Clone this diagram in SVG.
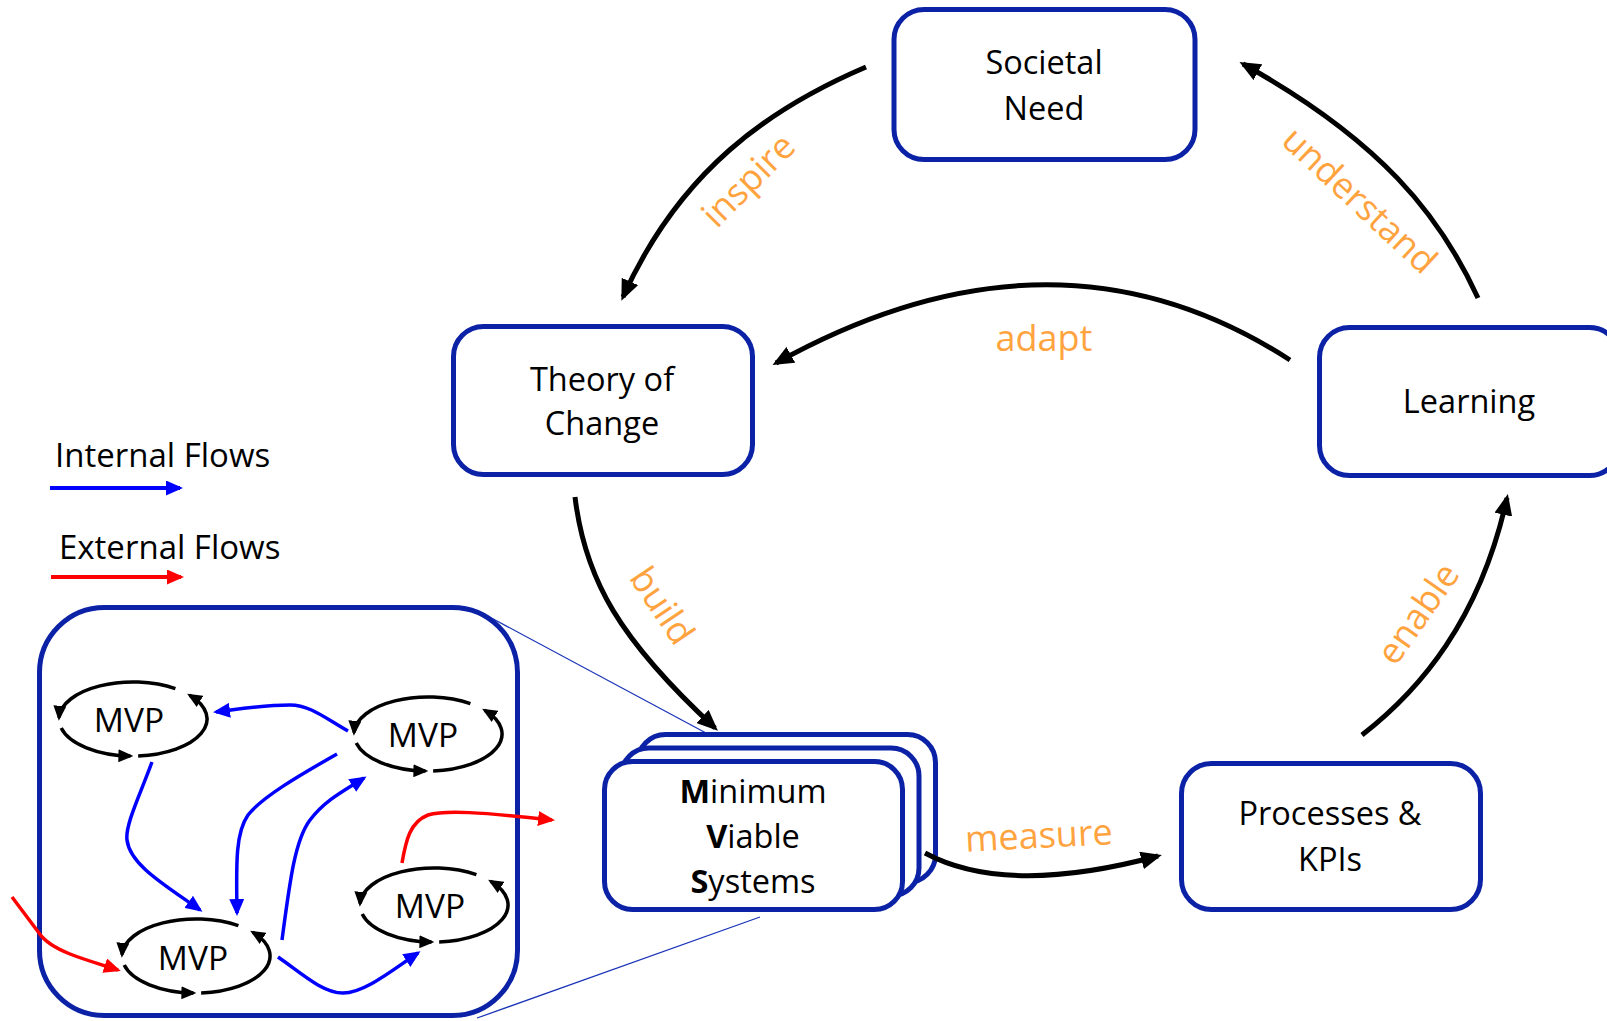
<svg xmlns="http://www.w3.org/2000/svg" xmlns:xlink="http://www.w3.org/1999/xlink" width="1607" height="1021" viewBox="0 0 1607 1021">
  <style>
    .box { fill: #ffffff; stroke: #0b22a6; stroke-width: 5; }
    .frame { fill: none; stroke: #0b22a6; stroke-width: 5; }
    .node-text { font-family: "Open Sans", "Noto Sans", sans-serif; font-size: 32.5px; fill: #000000; text-anchor: middle; }
    .mvp-text { font-family: "Open Sans", "Noto Sans", sans-serif; font-size: 33.5px; fill: #000000; text-anchor: middle; }
    .legend-text { font-family: "Open Sans", "Noto Sans", sans-serif; font-size: 33px; fill: #000000; }
    .label { font-family: "Open Sans", "Noto Sans", sans-serif; font-size: 36px; fill: #ffa33f; text-anchor: middle; }
    .flow-main { fill: none; stroke: #000000; stroke-width: 5; marker-end: url(#ah-black); }
    .ring { fill: none; stroke: #000000; stroke-width: 3.5; marker-end: url(#ah-small); }
    .flow-int { fill: none; stroke: #0000ff; stroke-width: 3.5; marker-end: url(#ah-blue); }
    .flow-ext { fill: none; stroke: #ff0000; stroke-width: 3.5; marker-end: url(#ah-red); }
    .callout { fill: none; stroke: #1a34b8; stroke-width: 1.3; }
  </style>
  <defs>
    <marker id="ah-black" viewBox="0 0 21 18" refX="17" refY="9" markerWidth="21" markerHeight="18" markerUnits="userSpaceOnUse" orient="auto">
      <path d="M0,0 L21,9 L0,18 z" fill="#000000"/>
    </marker>
    <marker id="ah-small" viewBox="0 0 15 13" refX="12" refY="6.5" markerWidth="15" markerHeight="13" markerUnits="userSpaceOnUse" orient="auto">
      <path d="M0,0 L15,6.5 L0,13 z" fill="#000000"/>
    </marker>
    <marker id="ah-blue" viewBox="0 0 17 15" refX="14" refY="7.5" markerWidth="17" markerHeight="15" markerUnits="userSpaceOnUse" orient="auto">
      <path d="M0,0 L17,7.5 L0,15 z" fill="#0000ff"/>
    </marker>
    <marker id="ah-red" viewBox="0 0 17 15" refX="14" refY="7.5" markerWidth="17" markerHeight="15" markerUnits="userSpaceOnUse" orient="auto">
      <path d="M0,0 L17,7.5 L0,15 z" fill="#ff0000"/>
    </marker>
    <!-- three-arc feedback loop around each MVP, centred on the origin -->
    <g id="mvp-ring">
      <path class="ring" d="M42.4,-30.3 A74,37 0 0 0 -73.96,-1.29"/>
      <path class="ring" d="M-71.8,8.95 A74,37 0 0 0 -2.58,36.98"/>
      <path class="ring" d="M5.16,36.91 A74,37 0 0 0 56.7,-23.8"/>
    </g>
  </defs>

  <rect width="1607" height="1021" fill="#ffffff"/>

  <!-- legend -->
  <g id="legend">
    <text class="legend-text" x="55" y="467">Internal Flows</text>
    <path class="flow-int" d="M50,488 L180,488" style="stroke-width:4"/>
    <text class="legend-text" x="59" y="559">External Flows</text>
    <path class="flow-ext" d="M51,577 L181,577" style="stroke-width:4"/>
  </g>

  <!-- zoom lines from the MVS stack to the detail panel -->
  <g id="callout-lines">
    <line class="callout" x1="484" y1="614" x2="706" y2="733"/>
    <line class="callout" x1="477" y1="1018" x2="760" y2="917"/>
  </g>

  <!-- main nodes -->
  <g id="societal-need">
    <rect class="box" x="894" y="9.5" width="301" height="150" rx="30"/>
    <text class="node-text" x="1044" y="74">Societal</text>
    <text class="node-text" x="1044" y="120">Need</text>
  </g>
  <g id="theory-of-change">
    <rect class="box" x="453.5" y="326.5" width="299" height="148" rx="30"/>
    <text class="node-text" x="602" y="391">Theory of</text>
    <text class="node-text" x="602" y="435">Change</text>
  </g>
  <g id="learning">
    <rect class="box" x="1319.5" y="327.5" width="300" height="148" rx="30"/>
    <text class="node-text" x="1469" y="413">Learning</text>
  </g>
  <g id="processes-kpis">
    <rect class="box" x="1181.5" y="763.5" width="299" height="146" rx="30"/>
    <text class="node-text" x="1330" y="825">Processes &amp;</text>
    <text class="node-text" x="1330" y="871">KPIs</text>
  </g>
  <g id="minimum-viable-systems">
    <rect class="box" x="637.5" y="734.5" width="298" height="148" rx="28"/>
    <rect class="box" x="621" y="748" width="298" height="148" rx="28"/>
    <rect class="box" x="604.5" y="761.5" width="298" height="148" rx="28"/>
    <text class="node-text" x="753" y="803"><tspan font-weight="bold">M</tspan>inimum</text>
    <text class="node-text" x="753" y="848"><tspan font-weight="bold">V</tspan>iable</text>
    <text class="node-text" x="753" y="893"><tspan font-weight="bold">S</tspan>ystems</text>
  </g>

  <!-- detail panel of MVPs -->
  <g id="mvp-panel">
    <rect class="frame" x="39.5" y="607.5" width="478" height="408" rx="65"/>
  </g>
  <g id="mvp-1">
    <use href="#mvp-ring" xlink:href="#mvp-ring" transform="translate(133,719)"/>
    <text class="mvp-text" x="129" y="732">MVP</text>
  </g>
  <g id="mvp-2">
    <use href="#mvp-ring" xlink:href="#mvp-ring" transform="translate(428,734)"/>
    <text class="mvp-text" x="423" y="747">MVP</text>
  </g>
  <g id="mvp-3">
    <use href="#mvp-ring" xlink:href="#mvp-ring" transform="translate(196,956)"/>
    <text class="mvp-text" x="193" y="970">MVP</text>
  </g>
  <g id="mvp-4">
    <use href="#mvp-ring" xlink:href="#mvp-ring" transform="translate(434,905)"/>
    <text class="mvp-text" x="430" y="918">MVP</text>
  </g>

  <!-- connectors -->
  <g id="connectors">
    <!-- main cycle -->
    <path class="flow-main" d="M866,67 C770,108 680,170 623,297"/>
    <path class="flow-main" d="M575,497 C585,580 620,640 715,728"/>
    <path class="flow-main" d="M925,853 C975,880 1050,885 1158,856"/>
    <path class="flow-main" d="M1362,735 C1420,690 1480,620 1507,498"/>
    <path class="flow-main" d="M1478,298 C1440,215 1380,140 1243,64"/>
    <path class="flow-main" d="M1290,360 Q1055,208 776,363"/>

    <!-- internal flows between MVPs -->
    <path class="flow-int" d="M348,731 C325,718 310,705 290,705 C262,705 240,709 216,712"/>
    <path class="flow-int" d="M152,762 C140,795 125,825 127,840 C130,865 165,885 200,910"/>
    <path class="flow-int" d="M337,754 C300,775 262,797 248,815 C236,832 236,860 237,913"/>
    <path class="flow-int" d="M282,940 C290,880 295,840 310,820 C325,800 345,790 364,778"/>
    <path class="flow-int" d="M278,957 C300,972 322,993 343,993 C365,993 395,968 418,953"/>

    <!-- external flows -->
    <path class="flow-ext" d="M12,897 L39,933 C45,942 55,948 70,954 C85,960 100,964 118,970"/>
    <path class="flow-ext" d="M402,863 C406,840 410,822 428,815 C445,810 480,812 552,820"/>

    <!-- connector labels -->
    <text class="label" transform="translate(750,182) rotate(-45)" x="0" y="10">inspire</text>
    <text class="label" transform="translate(660,607) rotate(56)" x="0" y="10">build</text>
    <text class="label" transform="translate(1039,838) rotate(-3)" x="0" y="10">measure</text>
    <text class="label" transform="translate(1420,615) rotate(-55)" x="0" y="10">enable</text>
    <text class="label" transform="translate(1358,202) rotate(43)" x="0" y="10">understand</text>
    <text class="label" x="1044" y="351">adapt</text>
  </g>
</svg>
